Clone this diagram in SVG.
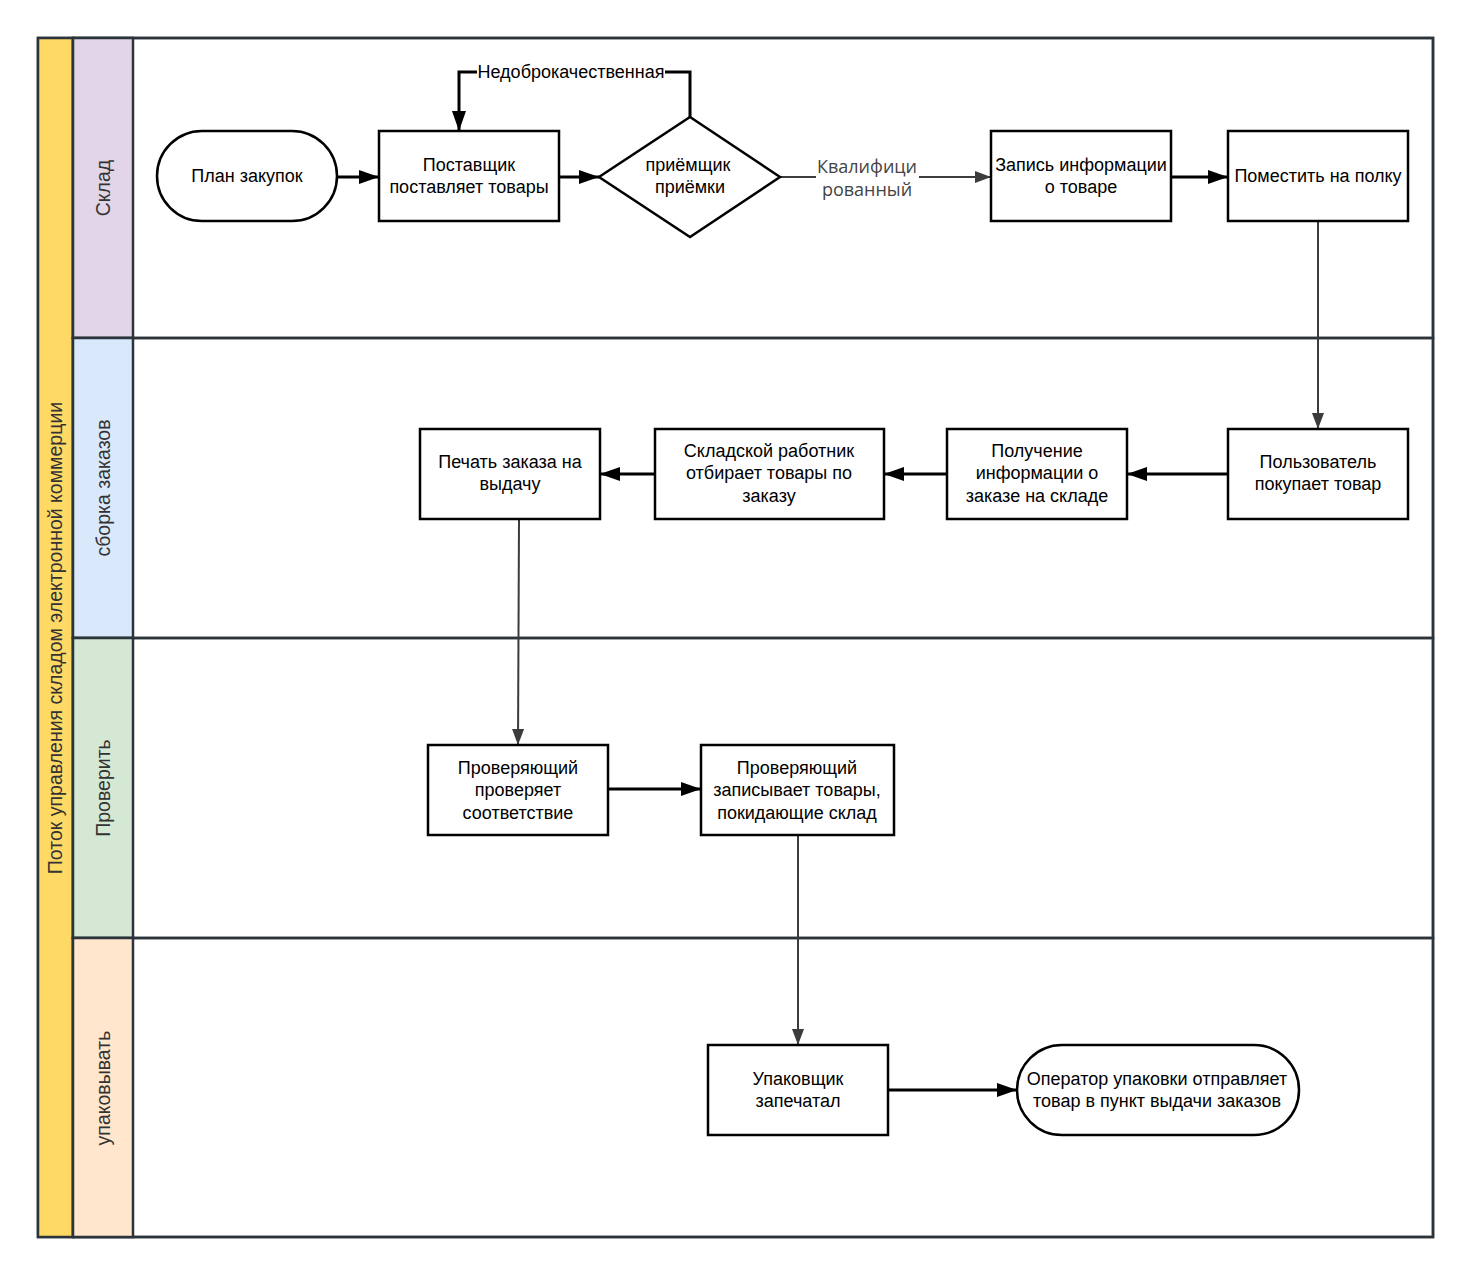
<svg xmlns="http://www.w3.org/2000/svg" width="1471" height="1275" viewBox="0 0 1471 1275">
<style>
.frame{stroke:#2b333b;stroke-width:2.5}
.box{fill:#fff;stroke:#000;stroke-width:2.5}
.t{font-family:"Liberation Sans",Arial,sans-serif;font-size:18px;fill:#000;text-anchor:middle}
.lane{font-family:"Liberation Sans",Arial,sans-serif;font-size:19.5px;fill:#333;text-anchor:middle}
.thick{fill:none;stroke:#000;stroke-width:3}
.thin{fill:none;stroke:#3c3c3c;stroke-width:2}
.lbl{font-family:"Open Sans","Liberation Sans",sans-serif;font-size:18px;fill:#444;text-anchor:middle}
</style>
<defs>
<marker id="ah" markerWidth="20" markerHeight="14" refX="20" refY="7" orient="auto" markerUnits="userSpaceOnUse"><path d="M0,0 L20,7 L0,14 Z" fill="#000"/></marker>
<marker id="ag" markerWidth="16" markerHeight="12" refX="16" refY="6" orient="auto" markerUnits="userSpaceOnUse"><path d="M0,0 L16,6 L0,12 Z" fill="#3c3c3c"/></marker>
</defs>
<rect width="1471" height="1275" fill="#fff"/>
<g id="pool">
<rect x="38" y="38" width="1395" height="1199" fill="#fff" class="frame"/>
<rect x="38" y="38" width="35" height="1199" fill="#FFD966" class="frame"/>
<text class="lane" transform="translate(62,638) rotate(-90)">Поток управления складом электронной коммерции</text>
</g>
<g id="lane1"><rect x="73" y="38" width="1360" height="300" fill="none" class="frame"/><rect x="73" y="38" width="60" height="300" fill="#E1D5E7" class="frame"/><text class="lane" transform="translate(110,188) rotate(-90)">Склад</text></g>
<g id="lane2"><rect x="73" y="338" width="1360" height="300" fill="none" class="frame"/><rect x="73" y="338" width="60" height="300" fill="#DAE8FC" class="frame"/><text class="lane" transform="translate(110,488) rotate(-90)">сборка заказов</text></g>
<g id="lane3"><rect x="73" y="638" width="1360" height="300" fill="none" class="frame"/><rect x="73" y="638" width="60" height="300" fill="#D5E8D4" class="frame"/><text class="lane" transform="translate(110,788) rotate(-90)">Проверить</text></g>
<g id="lane4"><rect x="73" y="938" width="1360" height="299" fill="none" class="frame"/><rect x="73" y="938" width="60" height="299" fill="#FFE6CC" class="frame"/><text class="lane" transform="translate(110,1088) rotate(-90)">упаковывать</text></g>

<g id="connectors">
<line class="thick" x1="337" y1="177" x2="379" y2="177" marker-end="url(#ah)"/>
<line class="thick" x1="559" y1="177" x2="599" y2="177" marker-end="url(#ah)"/>
<polyline class="thick" points="690,117 690,72 459,72 459,131" marker-end="url(#ah)"/>
<rect x="477" y="61" width="188" height="22" fill="#fff"/>
<text class="t" x="571" y="78">Недоброкачественная</text>
<line class="thin" x1="780" y1="177" x2="991" y2="177" marker-end="url(#ag)"/>
<rect x="816" y="155" width="103" height="46" fill="#fff"/>
<text class="lbl" x="867" y="173">Квалифици</text>
<text class="lbl" x="867" y="196">рованный</text>
<line class="thick" x1="1171" y1="177" x2="1228" y2="177" marker-end="url(#ah)"/>
<line class="thin" x1="1318" y1="221" x2="1318" y2="429" marker-end="url(#ag)"/>
<line class="thick" x1="1228" y1="474" x2="1127" y2="474" marker-end="url(#ah)"/>
<line class="thick" x1="947" y1="474" x2="884" y2="474" marker-end="url(#ah)"/>
<line class="thick" x1="655" y1="474" x2="600" y2="474" marker-end="url(#ah)"/>
<line class="thin" x1="519" y1="519" x2="518" y2="745" marker-end="url(#ag)"/>
<line class="thick" x1="608" y1="789" x2="701" y2="789" marker-end="url(#ah)"/>
<line class="thin" x1="798" y1="835" x2="798" y2="1045" marker-end="url(#ag)"/>
<line class="thick" x1="888" y1="1090" x2="1017" y2="1090" marker-end="url(#ah)"/>
</g>

<g id="n1"><rect class="box" x="157" y="131" width="180" height="90" rx="45"/><text class="t" x="247" y="182">План закупок</text></g>
<g id="n2"><rect class="box" x="379" y="131" width="180" height="90"/><text class="t" x="469" y="171">Поставщик</text><text class="t" x="469" y="193">поставляет товары</text></g>
<g id="n3"><polygon class="box" points="690,117 780,177 690,237 599,177"/><text class="t" x="688" y="171">приёмщик</text><text class="t" x="690" y="193">приёмки</text></g>
<g id="n4"><rect class="box" x="991" y="131" width="180" height="90"/><text class="t" x="1081" y="171">Запись информации</text><text class="t" x="1081" y="193">о товаре</text></g>
<g id="n5"><rect class="box" x="1228" y="131" width="180" height="90"/><text class="t" x="1318" y="182">Поместить на полку</text></g>
<g id="n6"><rect class="box" x="1228" y="429" width="180" height="90"/><text class="t" x="1318" y="468">Пользователь</text><text class="t" x="1318" y="490">покупает товар</text></g>
<g id="n7"><rect class="box" x="947" y="429" width="180" height="90"/><text class="t" x="1037" y="457">Получение</text><text class="t" x="1037" y="479">информации о</text><text class="t" x="1037" y="502">заказе на складе</text></g>
<g id="n8"><rect class="box" x="655" y="429" width="229" height="90"/><text class="t" x="769" y="457">Складской работник</text><text class="t" x="769" y="479">отбирает товары по</text><text class="t" x="769" y="502">заказу</text></g>
<g id="n9"><rect class="box" x="420" y="429" width="180" height="90"/><text class="t" x="510" y="468">Печать заказа на</text><text class="t" x="510" y="490">выдачу</text></g>
<g id="n10"><rect class="box" x="428" y="745" width="180" height="90"/><text class="t" x="518" y="774">Проверяющий</text><text class="t" x="518" y="796">проверяет</text><text class="t" x="518" y="819">соответствие</text></g>
<g id="n11"><rect class="box" x="701" y="745" width="193" height="90"/><text class="t" x="797" y="774">Проверяющий</text><text class="t" x="797" y="796">записывает товары,</text><text class="t" x="797" y="819">покидающие склад</text></g>
<g id="n12"><rect class="box" x="708" y="1045" width="180" height="90"/><text class="t" x="798" y="1085">Упаковщик</text><text class="t" x="798" y="1107">запечатал</text></g>
<g id="n13"><rect class="box" x="1017" y="1045" width="282" height="90" rx="45"/><text class="t" x="1157" y="1085">Оператор упаковки отправляет</text><text class="t" x="1157" y="1107">товар в пункт выдачи заказов</text></g>
</svg>
